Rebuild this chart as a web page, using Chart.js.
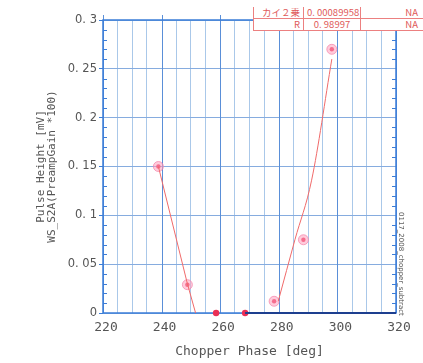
<!DOCTYPE html>
<html>
<head>
<meta charset="utf-8">
<script src="https://cdn.jsdelivr.net/npm/chart.js@4.4.1/dist/chart.umd.min.js"></script>
<style>
    body { margin: 0; background: #fff; }
    #wrap { position: relative; width: 423px; height: 363px; overflow: hidden; }
    #fitTable { position: absolute; left: 253px; top: 7px; width: 174px; table-layout: fixed; border-collapse: collapse; background: #fff; font-family: "Noto Sans CJK JP", "DejaVu Sans", sans-serif; font-size: 9.5px; color: #e05a5a; }
    #fitTable td { border: 1.5px solid #ec8080; border-top: none; height: 11px; line-height: 11px; padding: 0 3px; white-space: nowrap; overflow: hidden; }
    #fitTable td.k { text-align: right; }
    #fitTable td.v { text-align: center; }
    #fitTable td.n { text-align: right; padding-right: 8px; }
    #fname { position: absolute; left: 396px; top: 212px; transform-origin: 0 0; transform: rotate(90deg) translateY(-9px); font-family: "DejaVu Sans", sans-serif; font-size: 7px; color: #555; white-space: nowrap; }
</style>
</head>
<body>
<div id="wrap">
    <canvas id="phaseChart" width="423" height="363"></canvas>
    <table id="fitTable">
        <colgroup><col style="width:50px"><col style="width:57px"><col></colgroup>
        <tr><td class="k">カイ２乗</td><td class="v">0. 00089958</td><td class="n">NA</td></tr>
        <tr><td class="k">R</td><td class="v">0. 98997</td><td class="n">NA</td></tr>
    </table>
    <div id="fname">0117_2008_chopper_subtract</div>
</div>
<script>
// measured points
const phase = [238.9, 248.8, 258.6, 268.5, 278.4, 288.4, 298.1]
const pulse = [0.15, 0.029, 0, 0, 0.012, 0.075, 0.27]

// fit lines
const fitLeftX = [238.9, 248.8, 251.6]
const fitLeftY = [0.15, 0.03, 0]
const fitRightX = [279.8, 285.5, 291.2, 298.1]
const fitRightY = [0.012, 0.075, 0.136, 0.26]
const zeroLineX = [268.5, 320]
const zeroLineY = [0, 0]

// axis ticks
const xTicks = [220, 240, 260, 280, 300, 320]
const xGrid = [220, 225, 230, 235, 240, 245, 250, 255, 260, 265, 270, 275, 280, 285, 290, 295, 300, 305, 310, 315, 320]
const yTicks = [0, 0.05, 0.1, 0.15, 0.2, 0.25, 0.3]

function pairs(xs, ys) {
    return xs.map((x, i) => ({ x: x, y: ys[i] }))
}

function fmtY(v) {
    var s = String(parseFloat(v.toFixed(2)))
    return s.replace('.', '. ')
}

const BLUE = '#3b7dd8'

// frame, major grid, minor ticks
const framePlugin = {
    id: 'frame',
    beforeDatasetsDraw: function (chart) {
        var ctx = chart.ctx, a = chart.chartArea
        var xs = chart.scales.x, ys = chart.scales.y
        ctx.save()
        ctx.lineWidth = 1
        // major vertical lines
        ctx.strokeStyle = '#5a8fd8'
        xTicks.forEach(function (t) {
            var px = Math.round(xs.getPixelForValue(t)) + 0.5
            ctx.beginPath()
            ctx.moveTo(px, a.top - 5); ctx.lineTo(px, a.bottom)
            ctx.stroke()
        })
        ctx.strokeStyle = BLUE
        // minor ticks left / right
        for (var i = 0; i <= 30; i++) {
            if (i % 5 === 0) continue
            var py = Math.round(ys.getPixelForValue(i / 100)) + 0.5
            ctx.beginPath()
            ctx.moveTo(a.left, py); ctx.lineTo(a.left + 4, py)
            ctx.moveTo(a.right, py); ctx.lineTo(a.right - 4, py)
            ctx.stroke()
        }
        ctx.lineWidth = 1.5
        ctx.strokeRect(a.left, a.top, a.right - a.left, a.bottom - a.top)
        ctx.restore()
    }
}

var ctx = document.getElementById('phaseChart').getContext('2d')
var phaseChart = new Chart(ctx, {
    type: 'scatter',
    data: {
        datasets: [{
            label: 'fit left',
            data: pairs(fitLeftX, fitLeftY),
            showLine: true,
            borderColor: '#f06a6a',
            borderWidth: 1,
            pointRadius: 0
        }, {
            label: 'fit right',
            data: pairs(fitRightX, fitRightY),
            showLine: true,
            cubicInterpolationMode: 'monotone',
            borderColor: '#f06a6a',
            borderWidth: 1,
            pointRadius: 0
        }, {
            label: 'zero',
            data: pairs(zeroLineX, zeroLineY),
            showLine: true,
            borderColor: '#1d3f8f',
            borderWidth: 2,
            pointRadius: 0,
            clip: false
        }, {
            label: 'halo',
            data: pairs(phase, pulse),
            pointRadius: function (c) { return c.raw && c.raw.y > 0.005 ? 5 : 0 },
            backgroundColor: 'rgba(255, 160, 190, 0.55)',
            borderColor: 'rgba(245, 130, 170, 0.7)',
            borderWidth: 1,
            clip: false
        }, {
            label: 'points',
            data: pairs(phase, pulse),
            pointRadius: function (c) { return c.raw && c.raw.y > 0.005 ? 2.2 : 3.2 },
            backgroundColor: '#ea2f55',
            borderWidth: 0,
            clip: false
        }]
    },
    options: {
        responsive: false,
        animation: false,
        layout: {
            padding: { top: 20, right: 27, left: 0, bottom: 0 }
        },
        plugins: {
            legend: { display: false },
            tooltip: { enabled: false }
        },
        scales: {
            x: {
                type: 'linear',
                min: 220,
                max: 320,
                afterFit: function (s) { s.height = 50 },
                afterBuildTicks: function (s) { s.ticks = xGrid.map(v => ({ value: v })) },
                border: { display: false },
                grid: {
                    drawTicks: false,
                    // majors are drawn by the frame plugin
                    color: function (c) {
                        return c.tick && xTicks.indexOf(c.tick.value) >= 0 ? 'rgba(0,0,0,0)' : '#aac8e9'
                    },
                    lineWidth: 1
                },
                ticks: {
                    autoSkip: false,
                    maxRotation: 0,
                    padding: 7,
                    labelOffset: 3,
                    color: '#555',
                    font: { family: 'DejaVu Sans Mono', size: 13 },
                    callback: function (v) { return xTicks.indexOf(v) >= 0 ? String(v) : '' }
                },
                title: {
                    display: true,
                    text: 'Chopper Phase [deg]',
                    color: '#555',
                    font: { family: 'DejaVu Sans Mono', size: 13 },
                    padding: { top: 4 }
                }
            },
            y: {
                min: 0,
                max: 0.3,
                afterFit: function (s) { s.width = 103 },
                afterBuildTicks: function (s) { s.ticks = yTicks.map(v => ({ value: v })) },
                border: { display: false },
                grid: {
                    color: '#86acdf',
                    lineWidth: 1,
                    drawTicks: true,
                    tickLength: 4,
                    tickColor: BLUE
                },
                ticks: {
                    padding: 2,
                    color: '#555',
                    font: { family: 'DejaVu Sans', size: 11.5 },
                    callback: function (v) { return fmtY(v) }
                },
                title: {
                    display: true,
                    text: ['Pulse Height [mV]', 'WS_S2A(PreampGain *100)'],
                    color: '#555',
                    font: { family: 'DejaVu Sans Mono', size: 11, lineHeight: 1.0 },
                    padding: { top: 36, bottom: 0 }
                }
            }
        }
    },
    plugins: [framePlugin]
});
</script>
</body>
</html>
